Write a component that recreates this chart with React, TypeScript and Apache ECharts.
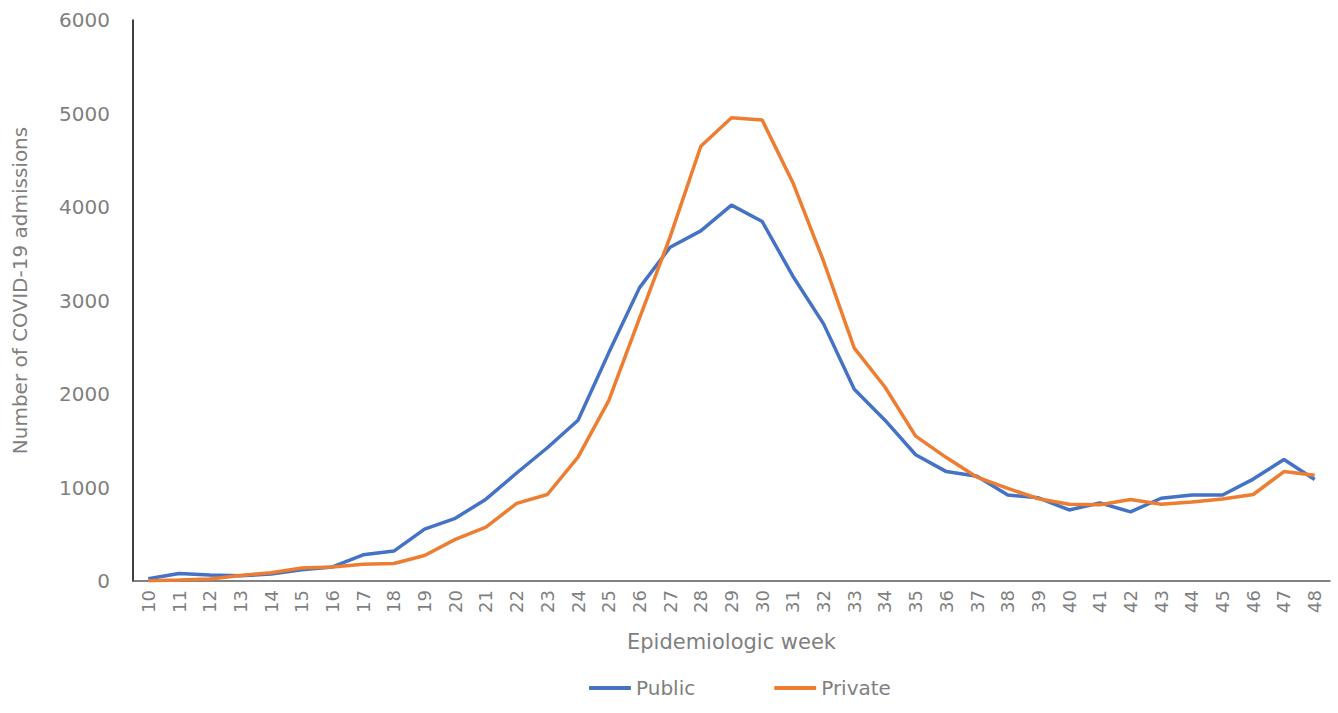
import React, { useEffect, useRef } from "react";
import * as echarts from "echarts";

const weeks = [
  "10","11","12","13","14","15","16","17","18","19","20","21","22","23","24","25","26","27","28","29",
  "30","31","32","33","34","35","36","37","38","39","40","41","42","43","44","45","46","47","48",
];

const publicAdmissions = [
  25, 80, 65, 55, 75, 120, 150, 280, 320, 555,
  670, 875, 1155, 1425, 1720, 2440, 3135, 3570, 3745, 4020,
  3845, 3260, 2750, 2050, 1720, 1350, 1170, 1120, 920, 890,
  760, 835, 740, 885, 920, 920, 1090, 1300, 1085,
];

const privateAdmissions = [
  3, 12, 22, 60, 88, 140, 150, 180, 187, 272,
  445, 575, 830, 925, 1325, 1930, 2810, 3680, 4650, 4955,
  4930, 4260, 3420, 2490, 2075, 1550, 1320, 1110, 990, 880,
  820, 815, 872, 820, 845, 878, 925, 1170, 1130,
];

const yTicks = { min: 0, max: 6000, interval: 1000 };

const FONT = "'DejaVu Sans', 'Noto Sans', sans-serif";
const GREY = "#7f7f7f";

export default function App() {
  const ref = useRef<HTMLDivElement>(null);

  useEffect(() => {
    if (!ref.current) return;
    const chart = echarts.init(ref.current, undefined, { renderer: "svg" });
    chart.setOption({
      animation: false,
      backgroundColor: "#ffffff",
      textStyle: { fontFamily: FONT },
      grid: { left: 133, right: 8, top: 20, bottom: 132, containLabel: false },
      legend: {
        left: 584,
        top: 673,
        itemWidth: 42,
        itemHeight: 4,
        itemGap: 79,
        icon: "roundRect",
        textStyle: { fontFamily: FONT, fontSize: 20, color: GREY },
        data: ["Public", "Private"],
      },
      xAxis: {
        type: "category",
        data: weeks,
        boundaryGap: true,
        name: "Epidemiologic week",
        nameLocation: "middle",
        nameGap: 50,
        nameTextStyle: { fontFamily: FONT, fontSize: 21, color: GREY },
        axisLine: { show: true, lineStyle: { color: "#595959", width: 1.5 } },
        axisTick: { show: false },
        axisLabel: {
          rotate: 90,
          interval: 0,
          margin: 9,
          fontFamily: FONT,
          fontSize: 18,
          color: GREY,
        },
        splitLine: { show: false },
      },
      yAxis: {
        type: "value",
        min: yTicks.min,
        max: yTicks.max,
        interval: yTicks.interval,
        name: "Number of COVID-19 admissions",
        nameLocation: "middle",
        nameGap: 103,
        nameTextStyle: {
          fontFamily: FONT,
          fontSize: 20,
          color: GREY,
          padding: [0, 0, 0, 20],
        },
        axisLine: { show: true, lineStyle: { color: "#000000", width: 1.5 } },
        axisTick: { show: false },
        axisLabel: {
          margin: 23,
          fontFamily: FONT,
          fontSize: 20,
          color: GREY,
          formatter: (v: number) => String(v),
        },
        splitLine: { show: false },
      },
      series: [
        {
          name: "Public",
          type: "line",
          data: publicAdmissions,
          showSymbol: false,
          symbol: "none",
          lineStyle: { color: "#4472C4", width: 3.5 },
          itemStyle: { color: "#4472C4" },
        },
        {
          name: "Private",
          type: "line",
          data: privateAdmissions,
          showSymbol: false,
          symbol: "none",
          lineStyle: { color: "#ED7D31", width: 3.5 },
          itemStyle: { color: "#ED7D31" },
        },
      ],
    });
    return () => chart.dispose();
  }, []);

  return (
    <div
      ref={ref}
      style={{ position: "fixed", left: 0, top: 0, width: 1338, height: 713 }}
    />
  );
}
